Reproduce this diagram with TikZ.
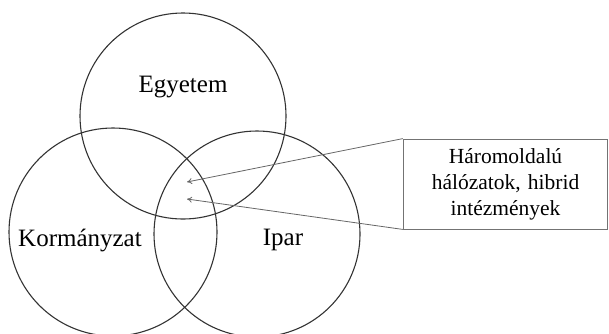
\documentclass[tikz,border=0pt]{standalone}
\usepackage{fontspec}
\setmainfont{Liberation Serif}
\usetikzlibrary{arrows.meta, positioning}

\begin{document}
\begin{tikzpicture}[x=1pt, y=-1pt, >={To[length=5pt, width=6pt]},
    setnode/.style={circle, draw=black!80, line width=1.1pt, minimum size=206pt, inner sep=0pt},
    setlabel/.style={font=\fontsize{25}{29}\selectfont},
    notebox/.style={rectangle, draw=black!55, line width=0.8pt, minimum width=203pt, minimum height=90pt, text width=198pt, align=center, font=\fontsize{21.5}{26}\selectfont},
    arrow/.style={->, draw=black!60, line width=0.8pt}]

    \useasboundingbox (0,0) rectangle (609,333);

    % Three spheres
    \node[setnode] (c_egyetem) at (183,116) {};
    \node[setnode, minimum size=208pt] (c_kormany) at (113,232) {};
    \node[setnode] (c_ipar) at (257,234) {};

    % Labels
    \node[setlabel] (egyetem) at (183,87) {Egyetem};
    \node[setlabel] (kormany) at (80,240) {Kormányzat};
    \node[setlabel] (ipar) at (283,240) {Ipar};

    % Note
    \node[notebox] (note) at (505.5,184) {Háromoldalú\\ hálózatok, hibrid\\ intézmények};
    \coordinate (p_upper) at (187,182);
    \coordinate (p_lower) at (187,199);

    % Links
    \draw[arrow] (note.north west) -- (p_upper);
    \draw[arrow] (note.south west) -- (p_lower);
\end{tikzpicture}
\end{document}
